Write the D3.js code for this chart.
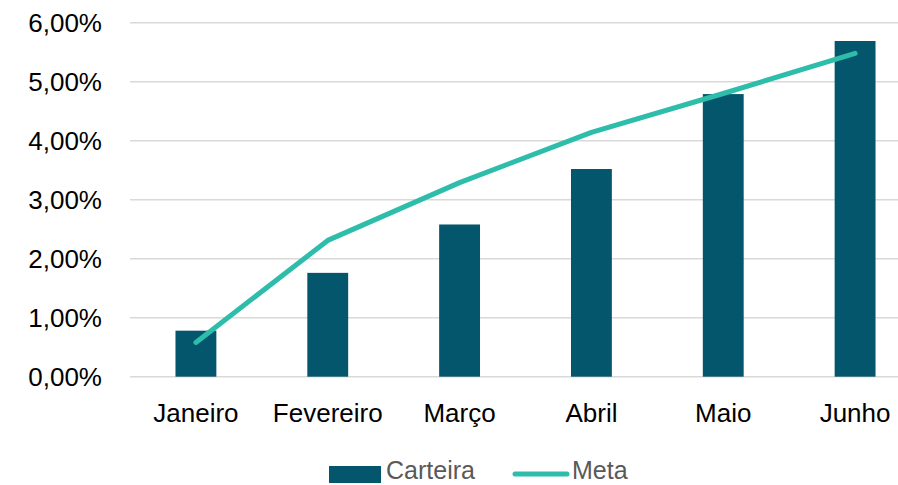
<!DOCTYPE html>
<html lang="pt">
<head>
<meta charset="UTF-8" />
<title>Carteira x Meta</title>
<style>
  body { margin: 0; background: #fff; overflow: hidden; }
  svg { display: block; font-family: "Liberation Sans", Arial, sans-serif; }
</style>
</head>
<body>
<div id="chart"></div>
<script src="https://d3js.org/d3.v7.min.js"></script>
<script>
  const meses = ["Janeiro", "Fevereiro", "Março", "Abril", "Maio", "Junho"];
  const carteira = [0.78, 1.76, 2.58, 3.52, 4.79, 5.69];
  const meta = [0.58, 2.31, 3.29, 4.14, 4.80, 5.48];
  const yTicks = [0, 1, 2, 3, 4, 5, 6];

  const width = 898, height = 485;
  const corBarra = "#03566b", corLinha = "#2ebdaa";

  const svg = d3.select("#chart").append("svg")
    .attr("width", width)
    .attr("height", height);

  const x = d3.scaleBand().domain(meses).range([130, 921]).paddingInner(0.69).paddingOuter(0.345);
  const y = d3.scaleLinear().domain([0, 6]).range([376.7, 22.7]);

  const fmt = v => d3.format(".2f")(v).replace(".", ",") + "%";

  // gridlines
  svg.append("g")
    .selectAll("line")
    .data(yTicks)
    .join("line")
    .attr("x1", 130).attr("x2", 921)
    .attr("y1", d => y(d)).attr("y2", d => y(d))
    .attr("stroke", "#d9d9d9")
    .attr("stroke-width", 1.5);

  // y axis labels
  const yAxis = svg.append("g")
    .attr("transform", "translate(102,0)")
    .call(d3.axisLeft(y).tickValues(yTicks).tickFormat(fmt).tickSize(0).tickPadding(0));
  yAxis.select(".domain").remove();
  yAxis.selectAll("text")
    .attr("font-size", 26)
    .attr("font-family", "Liberation Sans, Arial, sans-serif")
    .attr("fill", "#000");

  // bars
  svg.append("g")
    .selectAll("rect")
    .data(carteira)
    .join("rect")
    .attr("x", (d, i) => x(meses[i]))
    .attr("width", x.bandwidth())
    .attr("y", d => y(d))
    .attr("height", d => y(0) - y(d))
    .attr("fill", corBarra);

  // x labels
  const xAxis = svg.append("g")
    .attr("transform", "translate(0,376.7)")
    .call(d3.axisBottom(x).tickSize(0).tickPadding(27));
  xAxis.select(".domain").remove();
  xAxis.selectAll("text")
    .attr("font-size", 26)
    .attr("font-family", "Liberation Sans, Arial, sans-serif")
    .attr("fill", "#000");

  // meta line
  const line = d3.line()
    .x((d, i) => x(meses[i]) + x.bandwidth() / 2)
    .y(d => y(d));
  svg.append("path")
    .datum(meta)
    .attr("d", line)
    .attr("fill", "none")
    .attr("stroke", corLinha)
    .attr("stroke-width", 5)
    .attr("stroke-linecap", "round")
    .attr("stroke-linejoin", "round");

  // legend
  const leg = svg.append("g");
  leg.append("rect")
    .attr("x", 329).attr("y", 466).attr("width", 52).attr("height", 17)
    .attr("fill", corBarra);
  leg.append("text")
    .attr("x", 386).attr("y", 479)
    .attr("font-size", 25).attr("fill", "#595959")
    .text("Carteira");
  leg.append("line")
    .attr("x1", 515).attr("x2", 567).attr("y1", 474).attr("y2", 474)
    .attr("stroke", corLinha).attr("stroke-width", 5).attr("stroke-linecap", "round");
  leg.append("text")
    .attr("x", 572).attr("y", 479)
    .attr("font-size", 25).attr("fill", "#595959")
    .text("Meta");
</script>
</body>
</html>
